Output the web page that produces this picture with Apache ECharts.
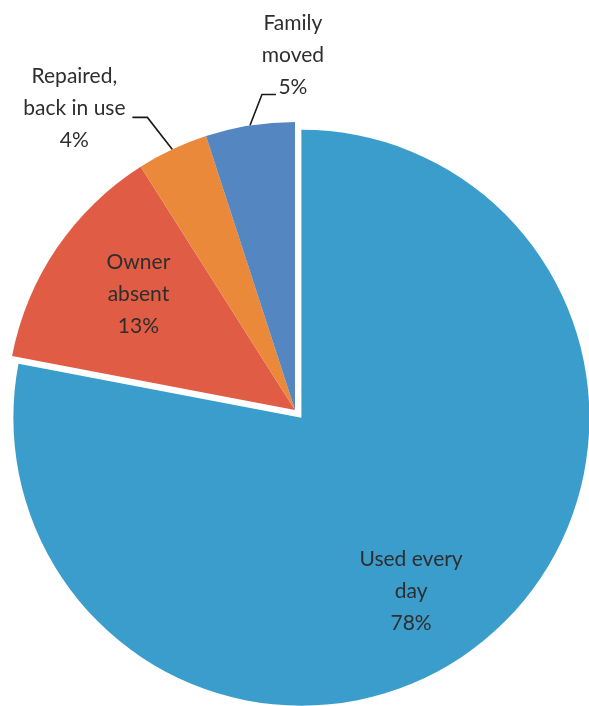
<!DOCTYPE html>
<html>
<head>
<meta charset="utf-8">
<script src="https://cdn.jsdelivr.net/npm/echarts@6/dist/echarts.min.js"></script>
<style>html,body{margin:0;padding:0;background:#fff;}#c{width:589px;height:706px;}</style>
</head>
<body>
<div id="c"></div>
<script>
var categories = ['Used every\nday', 'Owner\nabsent', 'Repaired,\nback in use', 'Family\nmoved'];
var values = [78, 13, 4, 5];
var colors = ['#3b9dcc', '#e05c45', '#eb893a', '#5486c2'];

var chart = echarts.init(document.getElementById('c'));
var data = categories.map(function (c, i) {
  var lbl = { position: i < 2 ? 'inside' : 'outside' };
  if (i === 0) { lbl.padding = [12, 0, 0, 32]; }
  return {
    name: c,
    value: values[i],
    selected: i === 0,
    itemStyle: { color: colors[i] },
    label: lbl,
    labelLine: { show: i >= 2 }
  };
});

chart.setOption({
  animation: false,
  series: [{
    type: 'pie',
    center: [295, 410],
    radius: 288,
    startAngle: 90,
    clockwise: true,
    selectedMode: 'single',
    selectedOffset: 10,
    data: data,
    label: {
      formatter: function (p) { return p.name + '\n' + p.value + '%'; },
      fontFamily: 'Lato',
      fontSize: 21,
      lineHeight: 32,
      color: '#2e2e2e',
      align: 'center',
      overflow: 'none'
    },
    labelLine: {
      show: true,
      lineStyle: { color: '#1a1a1a', width: 1.6 }
    },
    emphasis: { disabled: true },
    labelLayout: function (p) {
      var i = p.dataIndex;
      if (i === 0) { return { verticalAlign: 'top', align: 'center' }; }
      if (i === 1) {
        return {
          x: p.labelRect.x + p.labelRect.width / 2 - 35,
          y: p.labelRect.y + p.labelRect.height / 2 - 33,
          align: 'center',
          verticalAlign: 'middle'
        };
      }
      var p0 = p.labelLinePoints[0];
      var p1, p2, lx, ly;
      if (i === 2) {
        p1 = [p0[0] - 25, p0[1] - 32];
        p2 = [p1[0] - 15, p1[1]];
        lx = p2[0] - 58; ly = p2[1] - 9;
      } else {
        p1 = [p0[0] + 12, p0[1] - 31];
        p2 = [p1[0] + 14, p1[1]];
        lx = p2[0] + 17; ly = p2[1] - 39;
      }
      return {
        x: lx, y: ly,
        width: 160,
        align: 'center',
        verticalAlign: 'middle',
        labelLinePoints: [p0, p1, p2]
      };
    }
  }]
});
</script>
</body>
</html>
